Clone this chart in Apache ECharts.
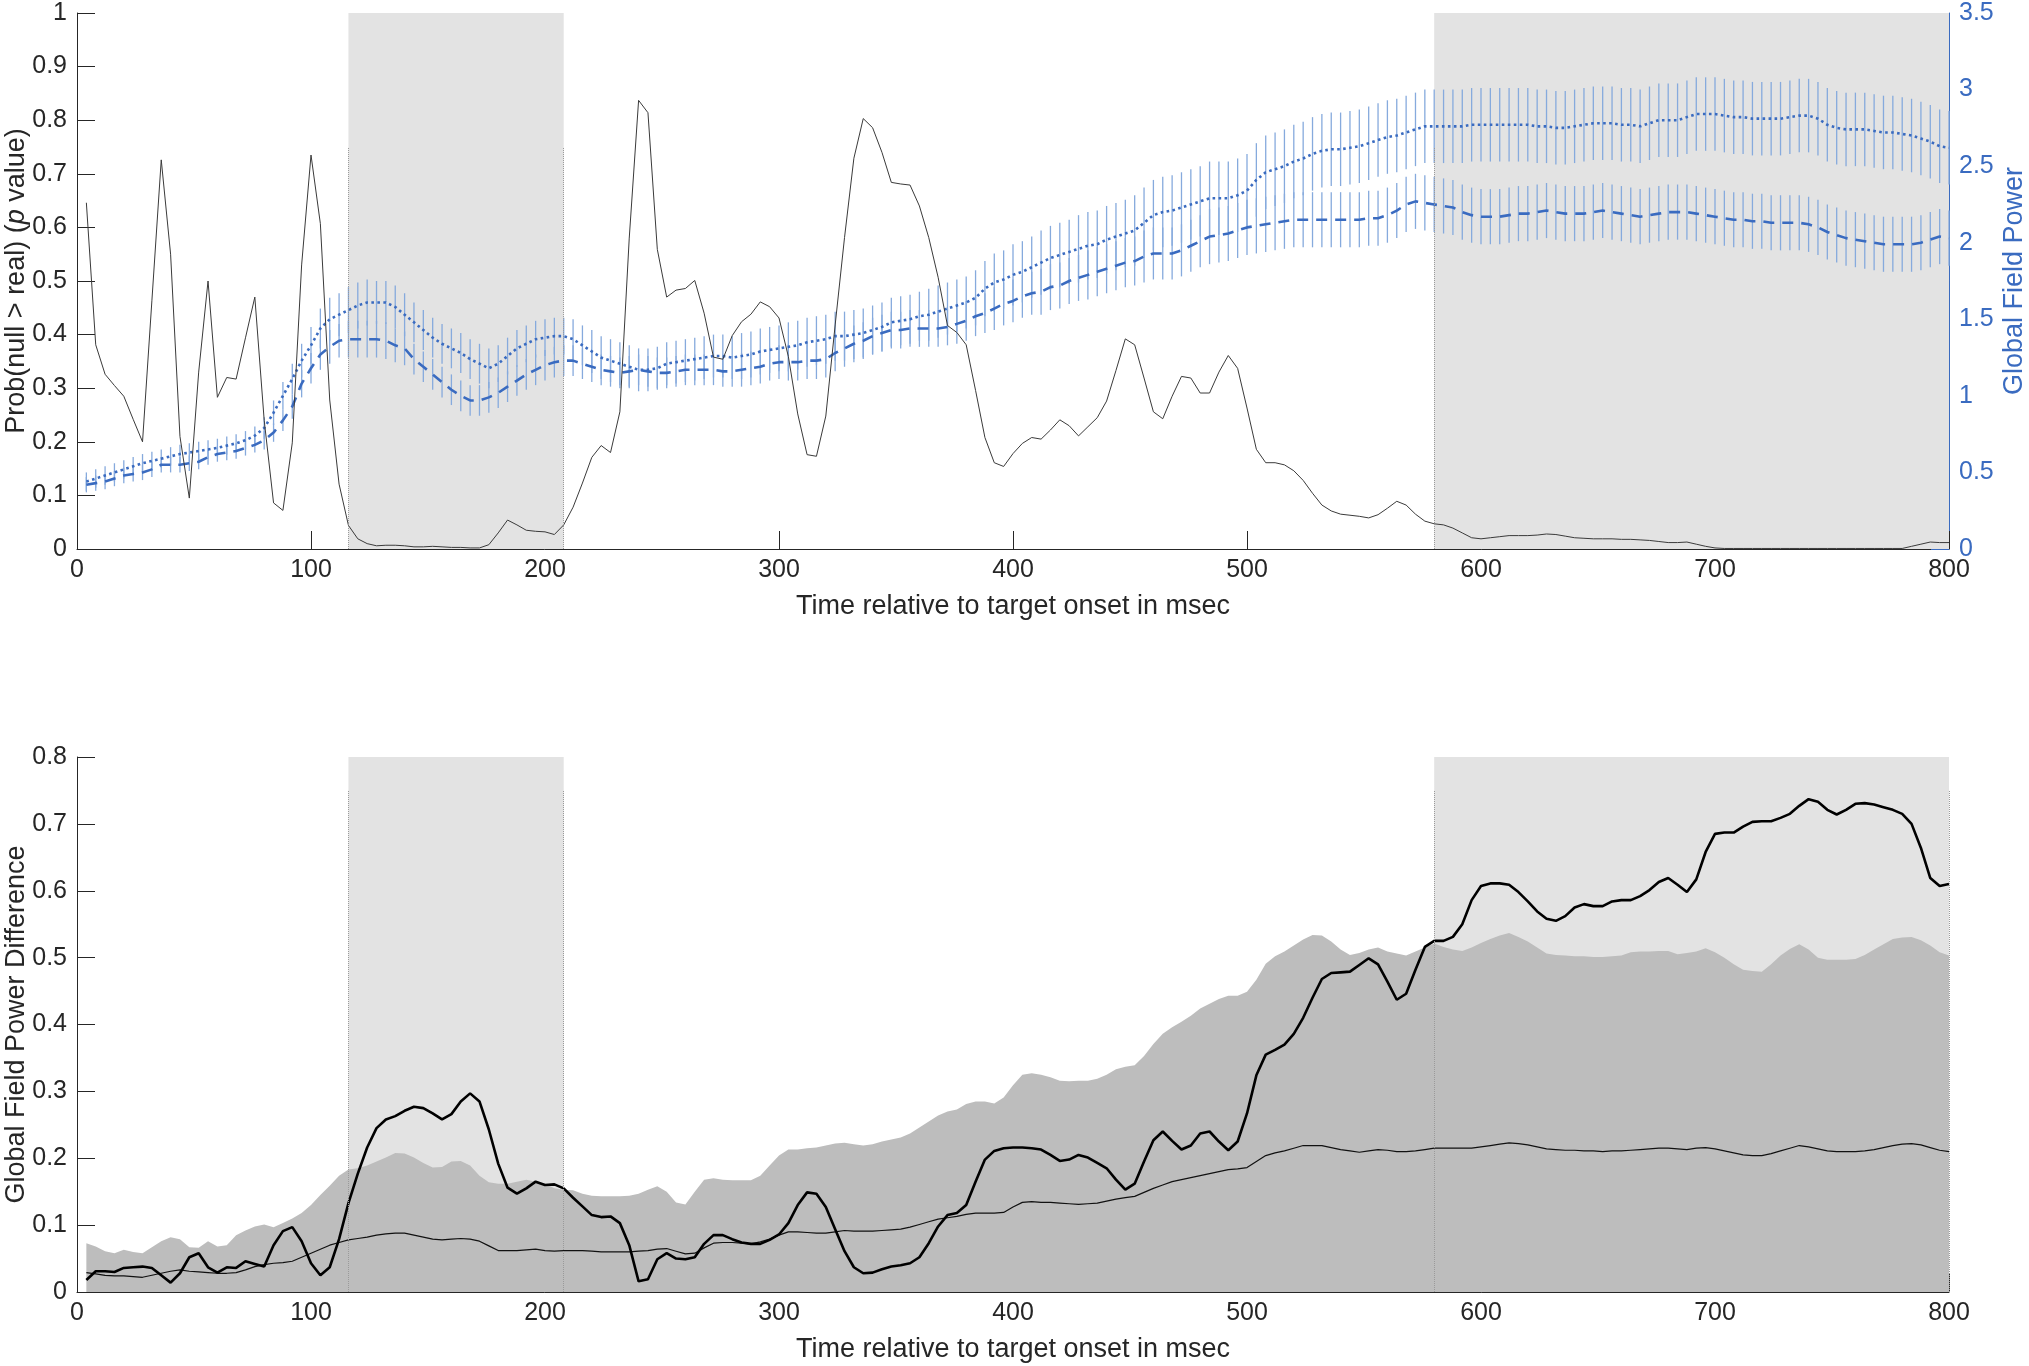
<!DOCTYPE html>
<html><head><meta charset="utf-8">
<script src="https://cdn.jsdelivr.net/npm/echarts@6/dist/echarts.min.js"></script>
<style>html,body{margin:0;padding:0;background:#fff}#c{width:2029px;height:1366px}</style>
</head><body><div id="c"></div>
<script>
// ---------- DATA (sampled every 4 ms, t = 4 ... 800) ----------
const sampleStepMs = 4;
const xTicks = [0, 800, 100];               // min, max, interval (ms)
const shadedWindows = [[116, 208], [580, 800]];
const windowMarkTop = 0.75;

// Top panel: probability (null > real), left axis
const pValue = [
0.646,0.381,0.326,0.305,0.285,0.242,0.200,0.463,0.726,0.550,
0.210,0.095,0.330,0.500,0.283,0.320,0.317,0.394,0.470,0.240,
0.086,0.072,0.198,0.530,0.735,0.607,0.278,0.121,0.044,0.019,
0.010,0.006,0.007,0.007,0.006,0.004,0.004,0.005,0.004,0.003,
0.003,0.002,0.002,0.008,0.030,0.054,0.045,0.035,0.033,0.032,
0.027,0.045,0.078,0.123,0.171,0.193,0.180,0.256,0.580,0.837,
0.814,0.559,0.470,0.483,0.486,0.501,0.440,0.358,0.354,0.398,
0.424,0.438,0.461,0.452,0.431,0.359,0.252,0.176,0.173,0.248,
0.418,0.581,0.729,0.803,0.786,0.740,0.684,0.681,0.679,0.640,
0.581,0.507,0.417,0.404,0.381,0.296,0.208,0.161,0.154,0.178,
0.197,0.208,0.205,0.222,0.241,0.230,0.211,0.228,0.245,0.276,
0.333,0.392,0.381,0.319,0.256,0.243,0.285,0.322,0.319,0.291,
0.291,0.330,0.361,0.337,0.263,0.186,0.161,0.161,0.157,0.146,
0.128,0.104,0.082,0.071,0.065,0.063,0.061,0.058,0.064,0.076,
0.089,0.082,0.065,0.052,0.047,0.045,0.039,0.030,0.021,0.019,
0.021,0.023,0.025,0.025,0.025,0.026,0.028,0.027,0.024,0.021,
0.020,0.019,0.019,0.019,0.018,0.018,0.017,0.016,0.014,0.012,
0.012,0.013,0.009,0.005,0.002,0.001,0.001,0.001,0.001,0.001,
0.001,0.001,0.001,0.001,0.001,0.001,0.001,0.001,0.001,0.001,
0.001,0.001,0.001,0.001,0.001,0.005,0.009,0.013,0.012,0.012];

// Top panel: Global Field Power (right axis), condition A (dotted) and B (dashed)
const gfpDotted = [
0.44,0.46,0.48,0.50,0.52,0.54,0.56,0.575,0.59,0.605,
0.62,0.63,0.64,0.65,0.66,0.675,0.69,0.71,0.74,0.79,
0.89,1.00,1.11,1.23,1.33,1.44,1.50,1.53,1.56,1.59,
1.61,1.61,1.61,1.58,1.53,1.48,1.43,1.38,1.34,1.31,
1.28,1.24,1.21,1.18,1.21,1.26,1.31,1.34,1.37,1.38,
1.39,1.39,1.37,1.33,1.29,1.25,1.23,1.21,1.19,1.17,
1.17,1.18,1.21,1.22,1.23,1.24,1.25,1.26,1.26,1.25,
1.26,1.27,1.29,1.30,1.31,1.32,1.33,1.35,1.36,1.37,
1.39,1.39,1.40,1.41,1.43,1.45,1.48,1.49,1.50,1.52,
1.53,1.55,1.57,1.59,1.61,1.64,1.70,1.74,1.76,1.79,
1.81,1.84,1.87,1.90,1.92,1.94,1.96,1.98,1.99,2.02,
2.04,2.06,2.08,2.13,2.18,2.20,2.21,2.23,2.25,2.27,
2.29,2.29,2.29,2.31,2.34,2.41,2.46,2.48,2.50,2.53,
2.55,2.58,2.60,2.61,2.61,2.62,2.63,2.65,2.67,2.69,
2.70,2.72,2.74,2.76,2.76,2.76,2.76,2.76,2.77,2.77,
2.77,2.77,2.77,2.77,2.77,2.76,2.76,2.75,2.75,2.76,
2.77,2.78,2.78,2.78,2.77,2.77,2.76,2.78,2.80,2.80,
2.80,2.82,2.84,2.84,2.84,2.83,2.82,2.82,2.81,2.81,
2.81,2.81,2.82,2.83,2.83,2.81,2.77,2.75,2.74,2.74,
2.74,2.73,2.72,2.72,2.71,2.70,2.68,2.66,2.63,2.62];
const gfpDottedErr = [
0.06,0.06,0.06,0.06,0.06,0.06,0.06,0.06,0.06,0.06,
0.06,0.06,0.06,0.06,0.06,0.06,0.06,0.06,0.06,0.07,
0.08,0.09,0.10,0.11,0.12,0.13,0.14,0.14,0.15,0.15,
0.15,0.14,0.14,0.14,0.14,0.13,0.13,0.13,0.13,0.13,
0.13,0.13,0.13,0.13,0.12,0.12,0.12,0.12,0.12,0.12,
0.12,0.12,0.13,0.13,0.14,0.14,0.14,0.14,0.14,0.14,
0.14,0.14,0.14,0.14,0.14,0.14,0.14,0.14,0.14,0.14,
0.15,0.15,0.15,0.15,0.15,0.16,0.16,0.16,0.16,0.16,
0.16,0.16,0.16,0.16,0.16,0.16,0.16,0.16,0.16,0.16,
0.17,0.17,0.17,0.17,0.17,0.18,0.18,0.19,0.19,0.20,
0.20,0.20,0.21,0.21,0.21,0.21,0.22,0.22,0.22,0.22,
0.22,0.22,0.23,0.23,0.23,0.23,0.23,0.23,0.23,0.23,
0.24,0.24,0.24,0.24,0.24,0.24,0.24,0.24,0.24,0.24,
0.24,0.24,0.24,0.24,0.24,0.24,0.24,0.24,0.24,0.24,
0.24,0.24,0.24,0.24,0.24,0.24,0.24,0.24,0.24,0.24,
0.24,0.24,0.24,0.24,0.24,0.24,0.24,0.24,0.24,0.24,
0.24,0.24,0.24,0.24,0.24,0.24,0.24,0.24,0.24,0.24,
0.24,0.24,0.24,0.24,0.24,0.24,0.24,0.24,0.24,0.24,
0.24,0.24,0.24,0.24,0.24,0.24,0.24,0.24,0.24,0.24,
0.24,0.24,0.24,0.24,0.24,0.24,0.24,0.24,0.24,0.24];
const gfpDashed = [
0.42,0.43,0.44,0.46,0.48,0.49,0.50,0.52,0.55,0.55,
0.55,0.56,0.57,0.60,0.62,0.63,0.64,0.66,0.68,0.71,
0.76,0.84,0.93,1.08,1.18,1.27,1.32,1.36,1.37,1.37,
1.37,1.37,1.36,1.33,1.31,1.24,1.19,1.14,1.09,1.04,
1.00,0.97,0.97,0.99,1.02,1.06,1.10,1.14,1.17,1.20,
1.22,1.23,1.23,1.21,1.19,1.17,1.16,1.15,1.16,1.17,
1.16,1.15,1.15,1.16,1.17,1.17,1.17,1.17,1.16,1.16,
1.17,1.18,1.19,1.21,1.22,1.22,1.22,1.23,1.23,1.24,
1.28,1.31,1.34,1.36,1.39,1.41,1.43,1.43,1.44,1.44,
1.44,1.44,1.45,1.47,1.49,1.52,1.54,1.57,1.60,1.62,
1.65,1.67,1.68,1.71,1.72,1.75,1.77,1.79,1.81,1.83,
1.85,1.87,1.88,1.91,1.93,1.93,1.93,1.95,1.98,2.01,
2.04,2.05,2.06,2.08,2.10,2.11,2.12,2.13,2.14,2.15,
2.15,2.15,2.15,2.15,2.15,2.15,2.15,2.16,2.16,2.18,
2.21,2.25,2.27,2.26,2.25,2.24,2.23,2.20,2.18,2.17,
2.17,2.17,2.18,2.19,2.19,2.20,2.21,2.20,2.19,2.19,
2.19,2.20,2.21,2.20,2.19,2.18,2.17,2.18,2.19,2.20,
2.20,2.20,2.19,2.18,2.17,2.16,2.15,2.15,2.14,2.14,
2.13,2.13,2.13,2.13,2.12,2.10,2.07,2.05,2.03,2.02,
2.01,2.00,1.99,1.99,1.99,1.99,2.00,2.02,2.04,2.03];
const gfpDashedErr = [
0.05,0.05,0.05,0.05,0.05,0.05,0.05,0.05,0.05,0.05,
0.05,0.05,0.05,0.05,0.05,0.05,0.05,0.05,0.05,0.06,
0.06,0.07,0.08,0.09,0.10,0.10,0.11,0.11,0.12,0.12,
0.12,0.12,0.12,0.11,0.11,0.10,0.10,0.10,0.10,0.10,
0.10,0.10,0.10,0.10,0.10,0.10,0.10,0.10,0.10,0.10,
0.10,0.10,0.10,0.10,0.10,0.10,0.10,0.10,0.10,0.10,
0.10,0.10,0.10,0.10,0.10,0.10,0.10,0.10,0.10,0.10,
0.11,0.11,0.11,0.11,0.11,0.12,0.12,0.12,0.12,0.12,
0.12,0.12,0.12,0.12,0.12,0.12,0.12,0.12,0.12,0.12,
0.12,0.12,0.12,0.13,0.13,0.13,0.13,0.14,0.14,0.14,
0.14,0.14,0.15,0.15,0.15,0.15,0.15,0.16,0.16,0.16,
0.16,0.16,0.16,0.17,0.17,0.17,0.17,0.17,0.17,0.17,
0.18,0.18,0.18,0.18,0.18,0.18,0.18,0.18,0.18,0.18,
0.18,0.18,0.18,0.18,0.18,0.18,0.18,0.18,0.18,0.18,
0.18,0.18,0.18,0.18,0.18,0.18,0.18,0.18,0.18,0.18,
0.18,0.18,0.18,0.18,0.18,0.18,0.18,0.18,0.18,0.18,
0.18,0.18,0.18,0.18,0.18,0.18,0.18,0.18,0.18,0.18,
0.18,0.18,0.18,0.18,0.18,0.18,0.18,0.18,0.18,0.18,
0.18,0.18,0.18,0.18,0.18,0.18,0.18,0.18,0.18,0.18,
0.18,0.18,0.18,0.18,0.18,0.18,0.18,0.18,0.18,0.18];

// Bottom panel: GFP difference
const nullUpper = [
0.073,0.068,0.061,0.058,0.063,0.060,0.058,0.067,0.076,0.082,
0.079,0.067,0.066,0.076,0.068,0.070,0.085,0.092,0.098,0.101,
0.097,0.103,0.110,0.118,0.130,0.145,0.159,0.174,0.183,0.185,
0.189,0.195,0.201,0.208,0.207,0.201,0.193,0.186,0.187,0.195,
0.196,0.189,0.174,0.164,0.162,0.162,0.165,0.168,0.165,0.162,
0.155,0.153,0.152,0.147,0.144,0.143,0.143,0.143,0.144,0.147,
0.153,0.158,0.150,0.134,0.131,0.150,0.168,0.170,0.168,0.167,
0.167,0.167,0.174,0.189,0.204,0.213,0.213,0.215,0.216,0.219,
0.222,0.223,0.221,0.219,0.221,0.225,0.228,0.231,0.237,0.246,
0.255,0.264,0.270,0.273,0.281,0.285,0.285,0.282,0.291,0.309,
0.325,0.327,0.325,0.321,0.316,0.315,0.316,0.316,0.319,0.325,
0.333,0.337,0.339,0.353,0.371,0.386,0.396,0.404,0.413,0.424,
0.431,0.438,0.443,0.443,0.449,0.467,0.491,0.502,0.509,0.518,
0.527,0.534,0.533,0.524,0.512,0.504,0.507,0.512,0.515,0.509,
0.506,0.503,0.509,0.515,0.521,0.516,0.512,0.510,0.515,0.522,
0.528,0.533,0.537,0.531,0.524,0.515,0.506,0.504,0.503,0.502,
0.502,0.501,0.501,0.502,0.503,0.508,0.509,0.509,0.510,0.510,
0.505,0.507,0.509,0.514,0.508,0.500,0.490,0.482,0.480,0.479,
0.490,0.503,0.513,0.520,0.512,0.500,0.497,0.497,0.497,0.498,
0.504,0.512,0.520,0.528,0.530,0.531,0.526,0.518,0.508,0.503];
const realDiff = [
0.018,0.031,0.031,0.030,0.036,0.037,0.038,0.036,0.025,0.014,
0.028,0.052,0.058,0.037,0.029,0.037,0.036,0.046,0.042,0.038,
0.070,0.091,0.097,0.076,0.043,0.025,0.037,0.079,0.133,0.177,
0.216,0.245,0.258,0.263,0.271,0.277,0.275,0.267,0.258,0.266,
0.285,0.297,0.285,0.243,0.192,0.156,0.147,0.155,0.165,0.160,
0.161,0.155,0.141,0.128,0.115,0.112,0.113,0.103,0.070,0.016,
0.019,0.049,0.058,0.050,0.049,0.052,0.072,0.085,0.085,0.079,
0.074,0.072,0.072,0.078,0.086,0.103,0.130,0.149,0.147,0.127,
0.094,0.061,0.037,0.028,0.029,0.034,0.038,0.040,0.043,0.052,
0.073,0.098,0.115,0.118,0.130,0.165,0.198,0.211,0.215,0.216,
0.216,0.215,0.213,0.205,0.196,0.198,0.205,0.201,0.193,0.185,
0.168,0.153,0.162,0.195,0.227,0.240,0.226,0.213,0.219,0.237,
0.240,0.225,0.212,0.225,0.267,0.324,0.355,0.362,0.370,0.386,
0.410,0.440,0.468,0.477,0.478,0.479,0.489,0.499,0.490,0.464,
0.437,0.446,0.482,0.516,0.525,0.525,0.531,0.550,0.586,0.607,
0.611,0.611,0.609,0.598,0.584,0.569,0.558,0.555,0.562,0.575,
0.580,0.577,0.577,0.584,0.586,0.586,0.592,0.601,0.613,0.619,
0.609,0.598,0.617,0.658,0.685,0.687,0.687,0.696,0.703,0.704,
0.704,0.709,0.715,0.727,0.737,0.733,0.721,0.714,0.721,0.730,
0.731,0.729,0.725,0.721,0.715,0.700,0.664,0.619,0.607,0.610];
const nullMean = [
0.029,0.027,0.025,0.024,0.024,0.023,0.022,0.025,0.028,0.031,
0.033,0.031,0.030,0.029,0.028,0.028,0.029,0.033,0.038,0.041,
0.043,0.044,0.046,0.052,0.058,0.064,0.070,0.074,0.078,0.080,
0.082,0.085,0.087,0.088,0.088,0.085,0.082,0.079,0.078,0.079,
0.080,0.079,0.076,0.069,0.062,0.062,0.062,0.063,0.064,0.062,
0.061,0.062,0.062,0.062,0.061,0.060,0.060,0.060,0.060,0.061,
0.062,0.064,0.065,0.061,0.057,0.058,0.066,0.073,0.074,0.074,
0.073,0.072,0.075,0.079,0.085,0.090,0.090,0.089,0.088,0.088,
0.090,0.092,0.091,0.091,0.091,0.092,0.093,0.094,0.097,0.101,
0.105,0.109,0.111,0.113,0.116,0.118,0.118,0.118,0.119,0.127,
0.134,0.135,0.134,0.134,0.133,0.132,0.131,0.132,0.133,0.136,
0.139,0.141,0.143,0.149,0.155,0.160,0.165,0.168,0.171,0.174,
0.177,0.180,0.183,0.184,0.186,0.195,0.204,0.208,0.211,0.215,
0.219,0.219,0.219,0.216,0.213,0.211,0.209,0.211,0.213,0.212,
0.210,0.210,0.211,0.213,0.215,0.215,0.215,0.215,0.215,0.217,
0.219,0.221,0.223,0.222,0.220,0.217,0.214,0.213,0.212,0.212,
0.211,0.211,0.210,0.211,0.211,0.212,0.213,0.214,0.215,0.215,
0.214,0.213,0.215,0.216,0.214,0.211,0.208,0.205,0.204,0.204,
0.207,0.211,0.215,0.219,0.217,0.214,0.211,0.210,0.210,0.210,
0.211,0.213,0.216,0.219,0.221,0.222,0.220,0.216,0.212,0.210];

// ---------- BUILD ----------
const timeMs = pValue.map((_, i) => (i + 1) * sampleStepMs);
const pairs = arr => arr.map((v, i) => [timeMs[i], v]);
const triples = (arr, err) => arr.map((v, i) => [timeMs[i], v, err[i]]);

const FONT = '"Liberation Sans", Arial, Helvetica, sans-serif';
const INK = '#262626';
const BLUE = '#3a6bc0';
const BAR = '#86aadd';
const TICK_FS = 25, TITLE_FS = 27;

const shadeData = shadedWindows.map(w => [{xAxis: w[0]}, {xAxis: w[1]}]);
const edgeLines = edges => edges.map(x => [{coord: [x, 0]}, {coord: [x, windowMarkTop]}]);

function xAxisCfg(gi) {
  return {
    type: 'value', gridIndex: gi, min: xTicks[0], max: xTicks[1], interval: xTicks[2],
    axisLine: {show: true, onZero: false, lineStyle: {color: INK, width: 1}},
    axisTick: {show: true, inside: true, length: 18, lineStyle: {color: INK, width: 1}},
    axisLabel: {color: INK, fontSize: TICK_FS, margin: 9, fontFamily: FONT},
    splitLine: {show: false},
    name: 'Time relative to target onset in msec', nameLocation: 'middle', nameGap: 44,
    nameMoveOverlap: false,
    nameTextStyle: {fontSize: TITLE_FS, color: INK, fontFamily: FONT}
  };
}
function yAxisCfg(gi, min, max, interval, pos, color, name, gap, extra) {
  return Object.assign({
    type: 'value', gridIndex: gi, min, max, interval, position: pos,
    axisLine: {show: true, onZero: false, lineStyle: {color: color, width: 1}},
    axisTick: {show: true, inside: true, length: 18, lineStyle: {color: color, width: 1}},
    axisLabel: {color: color, fontSize: TICK_FS, margin: 10, fontFamily: FONT},
    splitLine: {show: false},
    name, nameLocation: 'middle', nameGap: gap, nameMoveOverlap: false,
    nameTextStyle: {fontSize: TITLE_FS, color: color, fontFamily: FONT}
  }, extra || {});
}

function errRender(params, api) {
  const t = api.value(0), v = api.value(1), e = api.value(2);
  const a = api.coord([t, v + e]), b = api.coord([t, v - e]);
  return {type: 'line', shape: {x1: a[0], y1: a[1], x2: b[0], y2: b[1]},
          style: {stroke: BAR, lineWidth: 1.3}};
}

const chart = echarts.init(document.getElementById('c'), null, {renderer: 'canvas'});
chart.setOption({
  animation: false,
  backgroundColor: '#fff',
  grid: [
    {left: 77, right: 80, top: 13, height: 536, containLabel: false, outerBoundsMode: 'none'},
    {left: 77, right: 80, top: 757, height: 535, containLabel: false, outerBoundsMode: 'none'}
  ],
  xAxis: [xAxisCfg(0), xAxisCfg(1)],
  yAxis: [
    yAxisCfg(0, 0, 1, 0.1, 'left', INK, '{n|Prob(null > real) (}{i|p}{n| value)}', 47, {
      nameTextStyle: {fontSize: TITLE_FS, color: INK, fontFamily: FONT,
        rich: {n: {fontSize: TITLE_FS, color: INK, fontFamily: FONT},
               i: {fontSize: TITLE_FS, color: INK, fontFamily: FONT, fontStyle: 'italic'}}}
    }),
    yAxisCfg(0, 0, 3.5, 0.5, 'right', BLUE, 'Global Field Power', 52),
    yAxisCfg(1, 0, 0.8, 0.1, 'left', INK, 'Global Field Power Difference', 47)
  ],
  series: [
    { // shaded windows, top
      type: 'line', xAxisIndex: 0, yAxisIndex: 0, data: [], z: 0, silent: true,
      markArea: {silent: true, itemStyle: {color: '#e3e3e3'}, data: shadeData},
      markLine: {silent: true, symbol: 'none', label: {show: false},
        lineStyle: {type: 'dotted', color: '#9a9a9a', width: 1},
        data: edgeLines([116, 208, 580])}
    },
    {type: 'custom', xAxisIndex: 0, yAxisIndex: 1, z: 2, renderItem: errRender,
     encode: {x: 0, y: 1}, data: triples(gfpDotted, gfpDottedErr), silent: true},
    {type: 'custom', xAxisIndex: 0, yAxisIndex: 1, z: 2, renderItem: errRender,
     encode: {x: 0, y: 1}, data: triples(gfpDashed, gfpDashedErr), silent: true},
    {type: 'line', xAxisIndex: 0, yAxisIndex: 1, z: 3, symbol: 'none', smooth: false,
     lineStyle: {color: BLUE, width: 2.6, type: [2.6, 3.4]}, data: pairs(gfpDotted)},
    {type: 'line', xAxisIndex: 0, yAxisIndex: 1, z: 3, symbol: 'none',
     lineStyle: {color: BLUE, width: 2.6, type: [11, 8]}, data: pairs(gfpDashed)},
    {type: 'line', xAxisIndex: 0, yAxisIndex: 0, z: 4, symbol: 'none',
     lineStyle: {color: '#3a3a3a', width: 1}, data: pairs(pValue)},

    { // shaded windows, bottom
      type: 'line', xAxisIndex: 1, yAxisIndex: 2, data: [], z: 0, silent: true,
      markArea: {silent: true, itemStyle: {color: '#e3e3e3'}, data: shadeData},
      markLine: {silent: true, symbol: 'none', label: {show: false},
        lineStyle: {type: 'dotted', color: '#9a9a9a', width: 1},
        data: edgeLines([116, 208, 580, 800])}
    },
    {type: 'line', xAxisIndex: 1, yAxisIndex: 2, z: 1, symbol: 'none',
     lineStyle: {width: 0, color: '#bdbdbd'}, areaStyle: {color: '#bdbdbd', opacity: 1},
     data: pairs(nullUpper)},
    {type: 'line', xAxisIndex: 1, yAxisIndex: 2, z: 3, symbol: 'none',
     lineStyle: {color: '#111', width: 1.2}, data: pairs(nullMean)},
    {type: 'line', xAxisIndex: 1, yAxisIndex: 2, z: 4, symbol: 'none',
     lineStyle: {color: '#000', width: 2.6}, data: pairs(realDiff)}
  ]
});
</script>
</body></html>
